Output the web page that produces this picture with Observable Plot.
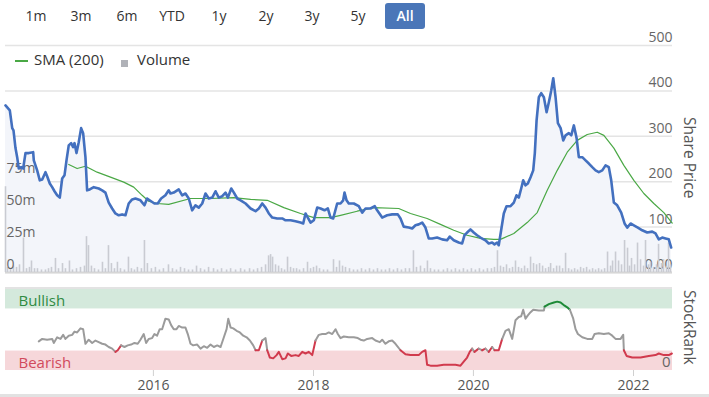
<!DOCTYPE html>
<html><head><meta charset="utf-8">
<script src="https://cdn.jsdelivr.net/npm/d3@7"></script>
<script src="https://cdn.jsdelivr.net/npm/@observablehq/plot@0.6"></script>
<style>
body{margin:0;background:#fff;font-family:"Open Sans",sans-serif;}
#wrap{position:relative;width:709px;height:397px;overflow:hidden;background:#fff;}
.layer{position:absolute;left:0;}
.btn{position:absolute;top:3px;height:26px;line-height:26px;width:40px;text-align:center;font-size:14px;color:#333;}
.btn.on{background:#4a76b8;color:#fff;border-radius:3px;font-weight:600;}
.leg{position:absolute;top:49px;font-size:15px;color:#333;}
.vlab{position:absolute;writing-mode:vertical-rl;font-size:15.5px;color:#555;}
</style></head>
<body><div id="wrap"></div>
<script>
// ---------- data ----------
const rangeButtons = ["1m","3m","6m","YTD","1y","2y","3y","5y","All"];
const priceTicks = [0,100,200,300,400,500];
const volumeTicks = [0,25,50,75];
const yearTicks = [2016,2018,2020,2022];

const priceDates = [2014.150,2014.204,2014.234,2014.250,2014.275,2014.296,2014.316,2014.346,2014.371,2014.400,2014.441,2014.496,2014.504,2014.546,2014.579,2014.609,2014.650,2014.671,2014.704,2014.734,2014.763,2014.796,2014.829,2014.859,2014.888,2014.913,2014.941,2014.971,2014.996,2015.013,2015.038,2015.066,2015.096,2015.121,2015.150,2015.171,2015.204,2015.254,2015.316,2015.359,2015.400,2015.441,2015.484,2015.525,2015.566,2015.609,2015.650,2015.691,2015.734,2015.775,2015.838,2015.888,2015.921,2015.971,2016.013,2016.054,2016.096,2016.150,2016.191,2016.213,2016.254,2016.316,2016.359,2016.400,2016.441,2016.484,2016.525,2016.566,2016.609,2016.650,2016.691,2016.734,2016.775,2016.816,2016.859,2016.900,2016.929,2016.971,2017.004,2017.046,2017.088,2017.150,2017.213,2017.275,2017.316,2017.359,2017.400,2017.441,2017.484,2017.546,2017.609,2017.650,2017.713,2017.775,2017.838,2017.871,2017.900,2017.929,2017.963,2018.004,2018.046,2018.088,2018.138,2018.179,2018.213,2018.246,2018.296,2018.338,2018.371,2018.388,2018.413,2018.441,2018.504,2018.566,2018.609,2018.650,2018.713,2018.766,2018.796,2018.859,2018.921,2018.984,2019.054,2019.088,2019.129,2019.191,2019.234,2019.275,2019.316,2019.359,2019.400,2019.441,2019.484,2019.546,2019.609,2019.671,2019.704,2019.754,2019.816,2019.859,2019.888,2019.921,2019.963,2020.004,2020.046,2020.088,2020.150,2020.191,2020.234,2020.263,2020.296,2020.316,2020.346,2020.379,2020.413,2020.463,2020.504,2020.538,2020.566,2020.596,2020.621,2020.650,2020.679,2020.713,2020.746,2020.766,2020.788,2020.816,2020.846,2020.879,2020.913,2020.941,2020.971,2020.996,2021.025,2021.054,2021.088,2021.121,2021.150,2021.191,2021.221,2021.254,2021.288,2021.316,2021.359,2021.400,2021.441,2021.484,2021.525,2021.566,2021.609,2021.650,2021.691,2021.721,2021.754,2021.796,2021.846,2021.888,2021.921,2021.963,2022.004,2022.054,2022.109,2022.171,2022.234,2022.275,2022.316,2022.359,2022.400,2022.441,2022.471];
const priceValues = [368,357,318,313,274,254,229,232,229,263,263,265,247,225,203,205,221,212,196,188,179,170,165,207,214,247,280,285,276,285,263,287,318,307,254,181,183,188,185,181,176,154,141,130,126,128,126,152,161,163,159,148,163,157,152,152,163,170,181,174,176,183,170,174,163,137,148,143,152,174,163,165,179,165,168,176,165,185,176,163,159,152,141,135,141,152,143,130,121,119,119,115,115,113,110,108,130,121,110,115,143,141,137,141,121,119,152,152,159,176,159,152,152,146,132,141,141,146,137,121,126,128,128,119,101,99,97,104,106,110,99,75,75,77,73,71,79,71,66,64,82,88,95,88,82,77,71,64,66,62,66,60,93,130,146,146,154,170,165,185,203,192,196,210,225,263,335,386,395,386,353,375,401,428,386,329,318,291,302,307,302,324,296,254,254,247,240,232,225,221,225,236,232,203,154,148,132,108,99,108,104,99,93,88,90,86,73,77,75,73,55];

const smaDates = [2014.941,2015.046,2015.150,2015.296,2015.463,2015.629,2015.754,2015.859,2015.941,2016.046,2016.191,2016.463,2016.713,2017.000,2017.213,2017.421,2017.629,2017.838,2018.004,2018.213,2018.338,2018.546,2018.754,2019.066,2019.213,2019.421,2019.588,2019.754,2019.921,2020.088,2020.254,2020.338,2020.504,2020.671,2020.796,2020.921,2021.046,2021.171,2021.296,2021.421,2021.546,2021.629,2021.754,2021.879,2022.004,2022.129,2022.254,2022.379,2022.484];
const smaValues = [238,229,234,221,210,199,188,170,157,152,150,163,163,165,161,159,143,130,121,121,126,135,143,141,130,119,106,93,82,75,73,73,86,110,132,181,225,265,291,304,309,302,274,236,203,174,152,132,109];

const volumeDates = [2014.150,2014.175,2014.213,2014.250,2014.288,2014.325,2014.375,2014.413,2014.450,2014.475,2014.513,2014.550,2014.600,2014.650,2014.688,2014.725,2014.775,2014.813,2014.863,2014.900,2014.950,2014.988,2015.038,2015.088,2015.138,2015.163,2015.188,2015.225,2015.263,2015.313,2015.363,2015.400,2015.438,2015.475,2015.513,2015.550,2015.588,2015.638,2015.688,2015.725,2015.763,2015.800,2015.850,2015.888,2015.925,2015.975,2016.025,2016.075,2016.125,2016.188,2016.238,2016.288,2016.338,2016.388,2016.438,2016.488,2016.538,2016.588,2016.638,2016.688,2016.750,2016.800,2016.850,2016.913,2016.963,2017.025,2017.088,2017.138,2017.200,2017.250,2017.300,2017.350,2017.400,2017.438,2017.463,2017.488,2017.525,2017.563,2017.600,2017.638,2017.675,2017.713,2017.750,2017.788,2017.825,2017.875,2017.925,2017.963,2018.000,2018.038,2018.075,2018.125,2018.175,2018.250,2018.288,2018.325,2018.363,2018.400,2018.450,2018.500,2018.550,2018.600,2018.650,2018.700,2018.750,2018.800,2018.850,2018.900,2018.950,2019.000,2019.050,2019.100,2019.150,2019.200,2019.250,2019.288,2019.338,2019.388,2019.425,2019.463,2019.513,2019.563,2019.625,2019.675,2019.725,2019.775,2019.825,2019.875,2019.925,2019.975,2020.025,2020.075,2020.125,2020.175,2020.225,2020.263,2020.300,2020.338,2020.375,2020.413,2020.450,2020.488,2020.525,2020.563,2020.600,2020.638,2020.675,2020.713,2020.750,2020.788,2020.825,2020.863,2020.900,2020.938,2020.963,2021.000,2021.038,2021.075,2021.113,2021.150,2021.188,2021.225,2021.263,2021.300,2021.338,2021.375,2021.413,2021.450,2021.488,2021.525,2021.563,2021.600,2021.638,2021.675,2021.713,2021.738,2021.775,2021.813,2021.850,2021.888,2021.925,2021.950,2021.975,2022.013,2022.050,2022.088,2022.125,2022.150,2022.188,2022.213,2022.250,2022.288,2022.313,2022.350,2022.375,2022.413,2022.438,2022.463];
const volumeValues = [67,4,3,5,4,6,27,3,4,9,3,3,2,2,3,4,11,3,7,3,9,2,3,4,5,28,21,5,3,2,8,3,21,7,3,8,3,2,12,3,2,4,3,25,7,3,4,2,3,6,3,2,4,3,2,2,5,3,2,4,3,2,3,2,3,2,3,2,3,2,3,4,6,13,14,12,6,5,3,2,12,4,3,3,2,3,8,3,4,5,3,2,2,10,4,9,5,4,3,2,2,3,2,3,2,3,2,2,3,2,3,2,3,3,17,4,5,3,9,3,2,2,2,3,2,3,2,3,2,3,2,3,2,3,3,4,17,5,4,6,3,4,9,4,3,5,3,12,7,6,7,5,3,4,7,3,5,5,3,15,3,2,3,2,4,3,4,2,3,2,3,2,3,16,5,9,16,9,6,25,19,5,11,6,23,10,5,25,6,8,4,6,22,7,10,5,23,6];

const rankDates = [2014.566,2014.609,2014.671,2014.734,2014.754,2014.796,2014.838,2014.871,2014.900,2014.941,2014.984,2015.013,2015.046,2015.088,2015.121,2015.150,2015.191,2015.234,2015.275,2015.316,2015.359,2015.400,2015.441,2015.484,2015.525,2015.554,2015.596,2015.638,2015.679,2015.721,2015.763,2015.804,2015.838,2015.879,2015.909,2015.941,2015.984,2016.013,2016.046,2016.079,2016.109,2016.150,2016.191,2016.221,2016.254,2016.288,2016.316,2016.359,2016.400,2016.429,2016.463,2016.496,2016.546,2016.588,2016.629,2016.671,2016.713,2016.754,2016.796,2016.838,2016.879,2016.913,2016.934,2016.963,2016.996,2017.038,2017.079,2017.121,2017.163,2017.204,2017.246,2017.275,2017.316,2017.359,2017.400,2017.421,2017.454,2017.496,2017.538,2017.566,2017.609,2017.650,2017.679,2017.721,2017.775,2017.816,2017.859,2017.900,2017.941,2017.984,2018.025,2018.066,2018.109,2018.150,2018.191,2018.234,2018.275,2018.304,2018.338,2018.379,2018.441,2018.504,2018.554,2018.588,2018.629,2018.671,2018.734,2018.775,2018.829,2018.859,2018.900,2018.941,2018.984,2019.025,2019.088,2019.150,2019.213,2019.275,2019.316,2019.359,2019.400,2019.421,2019.463,2019.546,2019.629,2019.713,2019.775,2019.838,2019.879,2019.921,2019.954,2019.984,2020.013,2020.066,2020.109,2020.150,2020.191,2020.234,2020.263,2020.316,2020.359,2020.400,2020.441,2020.484,2020.525,2020.566,2020.596,2020.621,2020.650,2020.679,2020.713,2020.746,2020.816,2020.879,2020.888,2020.941,2021.004,2021.046,2021.088,2021.138,2021.171,2021.204,2021.246,2021.275,2021.304,2021.359,2021.421,2021.484,2021.513,2021.566,2021.629,2021.691,2021.734,2021.775,2021.838,2021.871,2021.879,2021.913,2021.984,2022.088,2022.191,2022.275,2022.316,2022.379,2022.441,2022.480];
const rankValues = [36,39,38,39,34,41,39,44,39,43,44,48,47,52,51,33,38,34,37,35,33,32,29,27,23,25,31,29,31,32,34,33,38,45,34,39,40,45,43,51,51,64,63,56,51,51,55,53,53,45,33,31,32,27,30,28,32,29,31,29,41,51,64,53,52,49,47,43,41,37,31,25,25,37,40,25,16,15,19,23,14,15,21,18,19,18,23,21,23,19,37,44,45,45,47,45,51,45,40,42,41,41,40,38,37,39,40,37,35,38,33,36,37,33,25,20,19,19,19,23,25,7,6,6,7,7,7,6,11,16,23,27,23,27,25,27,23,29,25,25,39,49,51,39,62,66,67,75,64,68,72,75,74,74,79,82,84,85,84,80,78,75,64,51,45,41,39,39,45,46,45,46,43,39,39,44,25,18,16,16,18,19,21,19,19,21];

const bandNames = ["Bullish","Bearish"];
const bandFrom = [76,0];
const bandTo = [100,24];
const bandFill = ["#d4e9dc","#f6d7da"];
const bandTextColor = ["#2f8b43","#d14a5c"];

// ---------- helpers ----------
function toDate(y){const Y=Math.floor(y);const a=Date.UTC(Y,0,1),b=Date.UTC(Y+1,0,1);return new Date(a+(y-Y)*(b-a));}
const price = priceDates.map((d,i)=>({date:toDate(d),value:priceValues[i]}));
const sma = smaDates.map((d,i)=>({date:toDate(d),value:smaValues[i]}));
const volume = volumeDates.map((d,i)=>({date:toDate(d),value:volumeValues[i]}));
const rank = rankDates.map((d,i)=>({date:toDate(d),value:rankValues[i]}));
const bands = bandNames.map((n,i)=>({name:n,from:bandFrom[i],to:bandTo[i],fill:bandFill[i],text:bandTextColor[i]}));
const rankColor = v => v <= 25 ? "#d13a4d" : v >= 77 ? "#1d8a37" : "#9b9b9b";

const xDomain = [toDate(2014.15), toDate(2022.4875)];
const wrap = document.getElementById("wrap");
const font = {fontFamily:"'Open Sans',sans-serif",fontSize:"14px",background:"transparent",overflow:"visible"};
function place(el, top){el.classList.add("layer");el.style.top=top+"px";wrap.appendChild(el);}

// buttons
const btnCenters = [36,81,127,172,219,266,312,358,405];
rangeButtons.forEach((b,i)=>{const d=document.createElement("div");d.className="btn"+(b==="All"?" on":"");d.textContent=b;d.style.left=(btnCenters[i]-20)+"px";wrap.appendChild(d);});

// legend and decorations
wrap.insertAdjacentHTML("beforeend",
 `<div style="position:absolute;left:15px;top:60px;width:13px;height:1.5px;background:#4aa845"></div>
  <div class="leg" style="left:34px">SMA (200)</div>
  <div style="position:absolute;left:121px;top:60px;width:7px;height:7px;background:#b0b2b8"></div>
  <div class="leg" style="left:137px">Volume</div>
  <div class="vlab" style="left:679px;top:117px">Share Price</div>
  <div class="vlab" style="left:679px;top:290px">StockRank</div>
  <div style="position:absolute;left:5px;top:287px;width:667px;height:1.5px;background:#e3e3e3"></div>
  <div style="position:absolute;left:0;top:394px;width:709px;height:3px;background:#e2e2e2"></div>`);

const top1 = {width:709,height:250,marginTop:15,marginBottom:8,marginLeft:5,marginRight:37,style:font};

// layer 1: grid + area + price axis
place(Plot.plot({...top1,
  x:{type:"utc",domain:xDomain,axis:null},
  y:{domain:[0,500]},
  marks:[
    Plot.gridY(priceTicks,{stroke:"#e4e4e4",strokeOpacity:1,strokeWidth:1.5}),
    Plot.areaY(price,{x:"date",y:"value",fill:"#f3f5fa"}),
    Plot.ruleY([0],{stroke:"#d6d6d6",strokeWidth:2}),
    Plot.axisY(priceTicks,{anchor:"right",label:null,tickSize:0,tickPadding:0,textAnchor:"end",dy:-8,fill:"#666",
      tickFormat:d=>d===0?"0.00":String(d)})
  ]}), 30);

// layer 2: volume
place(Plot.plot({...top1,
  x:{type:"utc",domain:xDomain,axis:null},
  y:{domain:[0,177.3]},
  marks:[
    Plot.ruleX(volume,{x:"date",y1:0,y2:"value",stroke:"#c9cbd2",strokeWidth:1.6}),
    Plot.axisY(volumeTicks,{anchor:"left",label:null,tickSize:0,tickPadding:0,textAnchor:"start",dx:1,dy:-8,fill:"#666",
      tickFormat:d=>d===0?"0":d+"m"})
  ]}), 30);

// layer 3: lines
place(Plot.plot({...top1,
  x:{type:"utc",domain:xDomain,axis:null},
  y:{domain:[0,500],axis:null},
  marks:[
    Plot.line(sma,{x:"date",y:"value",stroke:"#4aa845",strokeWidth:1.2}),
    Plot.line(price,{x:"date",y:"value",stroke:"#4370bf",strokeWidth:2.6,strokeLinejoin:"round"})
  ]}), 30);

// StockRank panel
place(Plot.plot({width:709,height:117,marginTop:9,marginBottom:27,marginLeft:5,marginRight:37,style:font,
  x:{type:"utc",domain:xDomain},
  y:{domain:[0,100]},
  color:{type:"identity"},
  marks:[
    Plot.rect(bands,{y1:"from",y2:"to",fill:"fill"}),
    Plot.text(bands,{y:d=>(d.from+d.to)/2,text:"name",fill:"text",frameAnchor:"left",textAnchor:"start",dx:13,dy:2,fontSize:15}),
    Plot.line(rank,{x:"date",y:"value",z:null,stroke:d=>rankColor(d.value),strokeWidth:2}),
    Plot.axisX(yearTicks.map(y=>toDate(y)),{label:null,tickSize:6,tickPadding:4,stroke:"#d0d0d0",fill:"#555",tickFormat:d3.utcFormat("%Y")}),
    Plot.axisY([0],{anchor:"right",label:null,tickSize:0,tickPadding:0,textAnchor:"end",dx:-2,dy:-8,fill:"#666",fontSize:15})
  ]}), 280);
</script></body></html>
